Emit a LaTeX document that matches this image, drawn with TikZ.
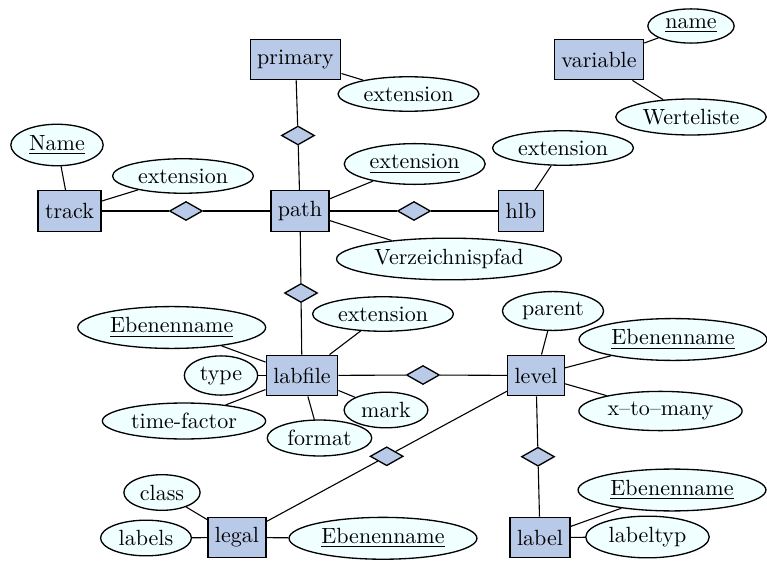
\documentclass[tikz,border=0pt]{standalone}
\usetikzlibrary{shapes.geometric}
\definecolor{entfill}{RGB}{185,202,232}
\definecolor{attfill}{RGB}{240,255,255}
\begin{document}
\begin{tikzpicture}[x=0.4545pt,y=-0.4545pt,
 entity/.style={rectangle,draw,semithick,fill=entfill,minimum height=18.4pt,inner xsep=3.2pt},
 attr/.style={ellipse,draw,semithick,fill=attfill,inner sep=2.2pt},
 rel/.style={diamond,draw,semithick,fill=entfill,minimum width=15pt,minimum height=8.6pt,inner sep=0pt},
 conn/.style={draw,line width=0.5pt}]
\useasboundingbox (0,0) rectangle (767,561);
% entities
\node[entity] (primary) at (295.5,59.5) {primary};
\node[entity] (track) at (69.5,211) {track};
\node[entity] (path) at (300,211) {path};
\node[entity] (hlb) at (521,211) {hlb};
\node[entity] (variable) at (599,59.5) {variable};
\node[entity] (labfile) at (302,375.5) {labfile};
\node[entity] (level) at (536,375.5) {level};
\node[entity] (legal) at (237,537.5) {legal};
\node[entity] (label) at (540,537.5) {label};
% relations
\node[rel] (d1) at (298,135.5) {};
\node[rel] (d2) at (186,211) {};
\node[rel] (d3) at (414,211) {};
\node[rel] (d4) at (301,293) {};
\node[rel] (d5) at (423,375) {};
\node[rel] (d6) at (386.7,456.3) {};
\node[rel] (d7) at (538,456.7) {};
% attributes
\node[attr] (pext) at (408.5,94) {extension};
\node[attr] (tname) at (57,145) {\underline{Name}};
\node[attr] (text) at (183,176) {extension};
\node[attr] (pathext) at (414.7,164) {\underline{extension}};
\node[attr] (verz) at (449,259) {Verzeichnispfad};
\node[attr] (hlbext) at (563,148) {extension};
\node[attr] (vname) at (691,26) {\underline{name}};
\node[attr] (wl) at (691,117) {Werteliste};
\node[attr] (lfeb) at (171.7,327.5) {\underline{Ebenenname}};
\node[attr] (lfext) at (383,314) {extension};
\node[attr] (type) at (221,375.5) {type};
\node[attr] (tf) at (184,421) {time-factor};
\node[attr] (format) at (319.5,438) {format};
\node[attr] (mark) at (386,410) {mark};
\node[attr] (parent) at (553,311) {parent};
\node[attr] (lveb) at (673,339.5) {\underline{Ebenenname}};
\node[attr] (xtm) at (660.5,411) {x--to--many};
\node[attr] (class) at (162,492.5) {class};
\node[attr] (labels) at (146,538) {labels};
\node[attr] (lgeb) at (383,538.3) {\underline{Ebenenname}};
\node[attr] (lbeb) at (672,490) {\underline{Ebenenname}};
\node[attr] (labeltyp) at (647.5,537) {labeltyp};
% connectors
\draw[conn] (primary) -- (pext);
\draw[conn] (primary) -- (d1) -- (path);
\draw[conn] (track) -- (tname);
\draw[conn] (track) -- (text);
\draw[conn] (track) -- (d2) -- (path);
\draw[conn] (path) -- (pathext);
\draw[conn] (path) -- (verz);
\draw[conn] (path) -- (d3) -- (hlb);
\draw[conn] (hlb) -- (hlbext);
\draw[conn] (variable) -- (vname);
\draw[conn] (variable) -- (wl);
\draw[conn] (path) -- (d4) -- (labfile);
\draw[conn] (labfile) -- (lfeb);
\draw[conn] (labfile) -- (lfext);
\draw[conn] (labfile) -- (type);
\draw[conn] (labfile) -- (tf);
\draw[conn] (labfile) -- (format);
\draw[conn] (labfile) -- (mark);
\draw[conn] (labfile) -- (d5) -- (level);
\draw[conn] (level) -- (parent);
\draw[conn] (level) -- (lveb);
\draw[conn] (level) -- (xtm);
\draw[conn] (level) -- (d6) -- (legal);
\draw[conn] (legal) -- (class);
\draw[conn] (legal) -- (labels);
\draw[conn] (legal) -- (lgeb);
\draw[conn] (level) -- (d7) -- (label);
\draw[conn] (label) -- (lbeb);
\draw[conn] (label) -- (labeltyp);
\end{tikzpicture}
\end{document}
